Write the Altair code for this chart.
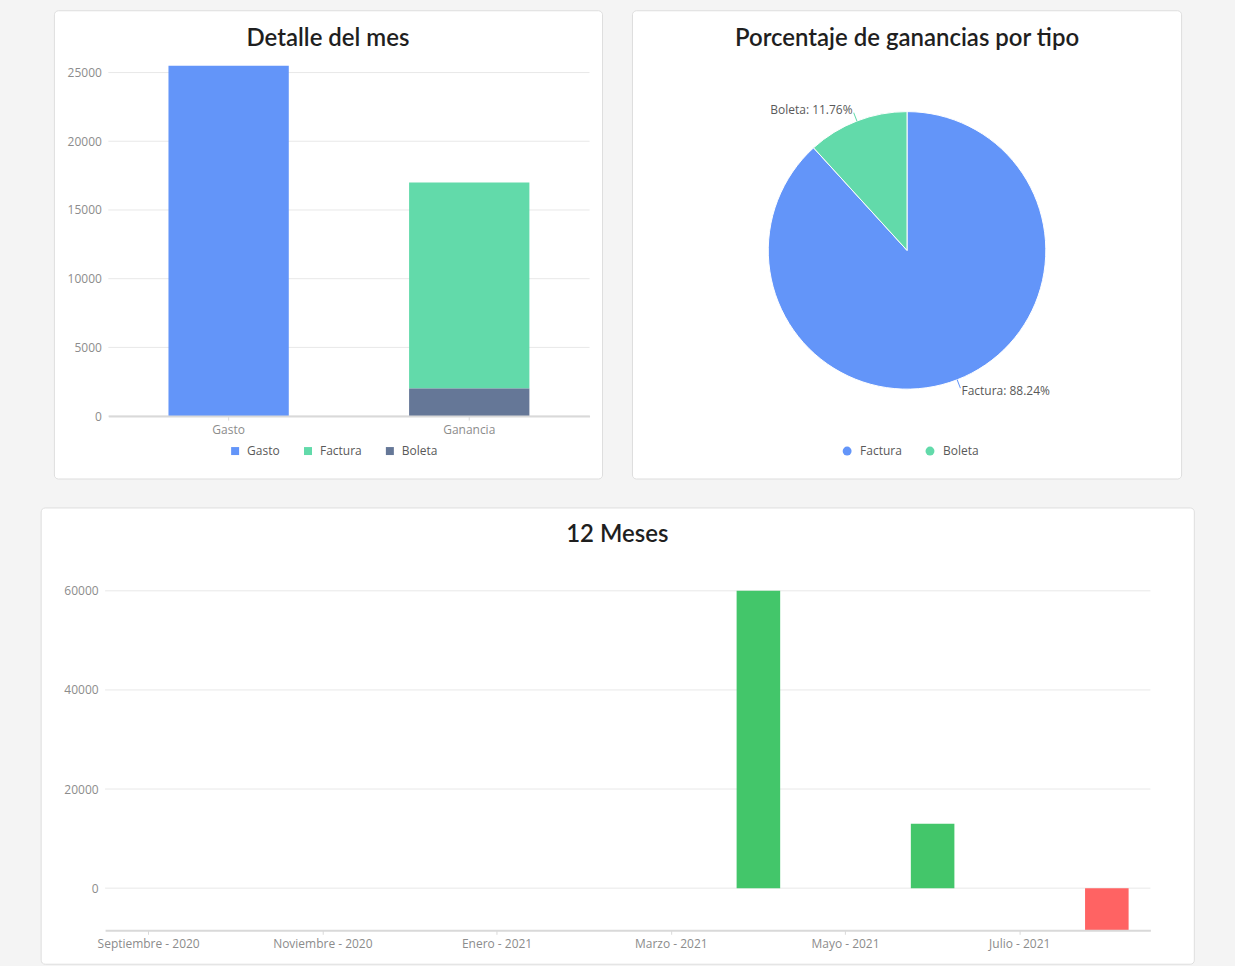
import altair as alt
import pandas as pd

# ---------------- data ----------------
detalle_categorias = ["Gasto", "Ganancia", "Ganancia"]
detalle_tipos = ["Gasto", "Factura", "Boleta"]
detalle_valores = [25500, 15000, 2000]
detalle_orden = [0, 1, 0]
detalle_ticks = [0, 5000, 10000, 15000, 20000, 25000]

pie_tipos = ["Factura", "Boleta"]
pie_valores = [15000, 2000]

meses = ["Septiembre - 2020", "Octubre - 2020", "Noviembre - 2020", "Diciembre - 2020",
         "Enero - 2021", "Febrero - 2021", "Marzo - 2021", "Abril - 2021",
         "Mayo - 2021", "Junio - 2021", "Julio - 2021", "Agosto - 2021"]
balance = [0, 0, 0, 0, 0, 0, 0, 60000, 0, 13000, 0, -8500]
meses_ticks = [0, 20000, 40000, 60000]

# ---------------- styles ----------------
BLUE = "#6395F9"
GREEN = "#62DAAA"
SLATE = "#657797"
POS = "#43C66A"
NEG = "#FF6363"
GRID = "#e8e8e8"
LABEL = "#8c8c8c"
TEXT = "#595959"
TITLE_FONT = "Lato"
FONT = "Open Sans"

one = pd.DataFrame({"k": [0]})


def card(x1, x2, y1, y2):
    return alt.Chart(one).mark_rect(
        fill="white", stroke="#dedede", strokeWidth=1, cornerRadius=4
    ).encode(x=alt.value(x1), x2=alt.value(x2), y=alt.value(y1), y2=alt.value(y2))


def spacer(x1, x2, y1, y2):
    return alt.Chart(one).mark_rect(opacity=0).encode(
        x=alt.value(x1), x2=alt.value(x2), y=alt.value(y1), y2=alt.value(y2))


def title_text(txt, x, y):
    return alt.Chart(pd.DataFrame({"t": [txt]})).mark_text(
        font=TITLE_FONT, fontSize=24, fontWeight=600, color="#1f1f1f",
        align="center", baseline="alphabetic"
    ).encode(text="t:N", x=alt.value(x), y=alt.value(y))


def y_axis(values):
    return alt.Axis(title=None, values=values, format="d", domain=False, ticks=False, grid=False,
                    labelColor=LABEL, labelFont=FONT, labelFontSize=12, labelPadding=7,
                    zindex=1)


def x_axis(values=None):
    kw = dict(title=None, labelAngle=0, grid=False, domainColor="#d9d9d9", domainWidth=2,
              tickColor="#d9d9d9", tickSize=4, labelColor=LABEL, labelFont=FONT,
              labelFontSize=12, labelPadding=4, zindex=1)
    if values is not None:
        kw["values"] = values
    return alt.Axis(**kw)


# ---------------- chart 1: Detalle del mes ----------------
W1, H1 = 482, 351
df1 = pd.DataFrame({"categoria": detalle_categorias, "tipo": detalle_tipos,
                    "valor": detalle_valores, "orden": detalle_orden})
y1 = alt.Scale(domain=[0, 25500], nice=False)

grid1 = alt.Chart(pd.DataFrame({"valor": detalle_ticks})).mark_rule(color=GRID).encode(
    y=alt.Y("valor:Q", scale=y1, title=None, axis=y_axis(detalle_ticks)),
    x=alt.value(0), x2=alt.value(W1))

bars1 = alt.Chart(df1).mark_bar().encode(
    x=alt.X("categoria:N", sort=["Gasto", "Ganancia"],
            scale=alt.Scale(paddingInner=0.5, paddingOuter=0.25), axis=x_axis()),
    y=alt.Y("valor:Q", scale=y1, title=None, axis=y_axis(detalle_ticks)),
    color=alt.Color("tipo:N", scale=alt.Scale(domain=detalle_tipos, range=[BLUE, GREEN, SLATE]),
                    legend=alt.Legend(title=None, orient="none", legendX=121, legendY=380,
                                      direction="horizontal", symbolType="square",
                                      symbolSize=64, symbolStrokeWidth=0,
                                      labelFont=FONT, labelFontSize=12, labelColor=TEXT,
                                      columnPadding=22, labelOffset=6, padding=0)),
    order=alt.Order("orden:Q"))

c1 = alt.layer(card(-54, 495, -55, 414), grid1, bars1,
               title_text("Detalle del mes", 220, -20)).properties(width=W1, height=H1)

# ---------------- chart 2: pie ----------------
total = sum(pie_valores)
starts = [sum(pie_valores[:i]) for i in range(len(pie_valores))]
mids = [s + v / 2 for s, v in zip(starts, pie_valores)]
df2 = pd.DataFrame({
    "clase": pie_tipos,
    "valor": pie_valores,
    "orden": list(range(len(pie_tipos))),
    "mid": mids,
    "l1": [m - 9 for m in mids],
    "l2": [m + 9 for m in mids],
    "label": [f"{t}: {v / total * 100:.2f}%" for t, v in zip(pie_tipos, pie_valores)],
})
pie_color = alt.Scale(domain=pie_tipos, range=[BLUE, GREEN])

arcs = alt.Chart(df2).mark_arc(radius=139, stroke="white", strokeWidth=1).encode(
    theta=alt.Theta("valor:Q", stack=True),
    color=alt.Color("clase:N", scale=pie_color,
                    legend=alt.Legend(title=None, orient="none", legendX=84, legendY=380,
                                      direction="horizontal", symbolType="circle",
                                      symbolSize=80, symbolStrokeWidth=0,
                                      labelFont=FONT, labelFontSize=12, labelColor=TEXT,
                                      columnPadding=22, labelOffset=7, padding=0)),
    order=alt.Order("orden:Q"))

leaders = alt.Chart(df2).mark_arc(radius=139, radius2=148).encode(
    theta=alt.Theta("l1:Q", stack=False), theta2="l2:Q",
    color=alt.Color("clase:N", scale=pie_color, legend=None))

lab_right = alt.Chart(df2).transform_filter(alt.datum.clase == "Boleta").mark_text(
    radius=151, align="right", baseline="middle", font=FONT, fontSize=12, color=TEXT
).encode(theta=alt.Theta("mid:Q", stack=False), text="label:N")

lab_left = alt.Chart(df2).transform_filter(alt.datum.clase == "Factura").mark_text(
    radius=151, align="left", baseline="middle", font=FONT, fontSize=12, color=TEXT
).encode(theta=alt.Theta("mid:Q", stack=False), text="label:N")

c2 = alt.layer(card(-125, 425, -55, 414), spacer(425, 435, 0, 10), arcs, leaders,
               lab_right, lab_left,
               title_text("Porcentaje de ganancias por tipo", 150, -20)
               ).properties(width=300, height=370)

# ---------------- chart 3: 12 Meses ----------------
W3, H3 = 1047, 340
df3 = pd.DataFrame({"mes": meses, "valor": balance})
y3 = alt.Scale(domain=[-8500, 60000], nice=False)

grid3 = alt.Chart(pd.DataFrame({"valor": meses_ticks})).mark_rule(color=GRID).encode(
    y=alt.Y("valor:Q", scale=y3, title=None, axis=y_axis(meses_ticks)),
    x=alt.value(0), x2=alt.value(W3))

bars3 = alt.Chart(df3).mark_bar().encode(
    x=alt.X("mes:N", sort=meses, scale=alt.Scale(paddingInner=0.5, paddingOuter=0.25),
            axis=x_axis([meses[i] for i in range(0, 12, 2)])),
    y=alt.Y("valor:Q", scale=y3, title=None, axis=y_axis(meses_ticks)),
    color=alt.condition(alt.datum.valor >= 0, alt.value(POS), alt.value(NEG)))

c3 = alt.layer(card(-64, 1091, -83, 374), grid3, bars3,
               title_text("12 Meses", 513, -49)).properties(width=W3, height=H3)

chart = alt.vconcat(
    alt.hconcat(c1, c2, spacing=28).resolve_scale(color="independent", theta="independent"),
    c3, spacing=27, center=True
).resolve_scale(color="independent").properties(
    background="#f4f4f4",
    padding={"left": 40, "top": 9, "right": 40, "bottom": 0},
).configure_view(strokeWidth=0)

chart.save("out.html", embed_options={"renderer": "svg", "actions": False})
